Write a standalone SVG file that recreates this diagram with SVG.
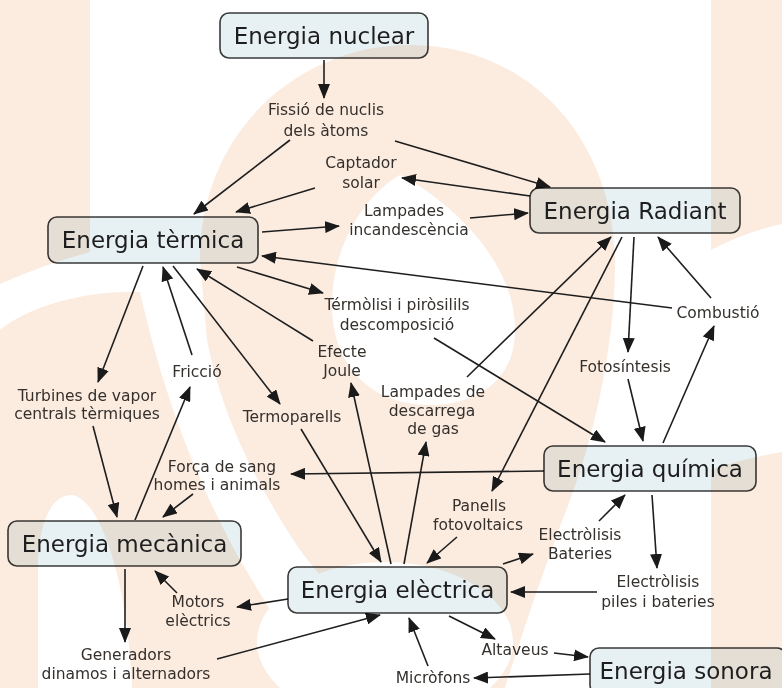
<svg xmlns="http://www.w3.org/2000/svg" width="782" height="688" viewBox="0 0 782 688">
<style>
.nd rect{fill:#e7f0f3;stroke:#3a3a3a;stroke-width:1.6;mix-blend-mode:multiply}
.nd text{font-family:"DejaVu Sans",Verdana,sans-serif;font-size:23px;fill:#1e1e1e;text-anchor:middle}
.lb text{font-family:"DejaVu Sans",Verdana,sans-serif;font-size:15.5px;fill:#35302c;text-anchor:middle}
#connectors path{fill:none;stroke:#1e1e1e;stroke-width:1.6;marker-end:url(#ah)}
.wm{fill:#fcece0}
</style>
<defs>
<marker id="ah" markerUnits="userSpaceOnUse" markerWidth="15" markerHeight="12" refX="14" refY="6" orient="auto"><path d="M0,0 L15,6 L0,12 Z" fill="#1a1a1a"/></marker>
</defs>
<rect width="782" height="688" fill="#ffffff"/>
<g id="watermark">
<path class="wm" d="M0,0 H90 V252 Q45,264 0,284 Z"/>
<path class="wm" d="M711,0 H782 V224 Q745,232 711,250 Z"/>
<path class="wm" d="M711,470 Q745,458 782,452 V688 H711 Z"/>
<path class="wm" d="M0,330 C30,305 90,290 140,292 C160,380 190,470 240,560 C270,610 295,650 315,688 H132 C128,585 102,500 72,495 C52,495 40,520 38,560 L38,688 H0 Z"/>
<path class="wm" d="M400,688 C370,630 330,590 300,550 C260,490 222,420 207,340 L200,260 C200,130 300,45 410,45 C530,45 615,140 615,265 C615,330 600,420 570,500 C540,580 520,640 505,688 Z"/>
<path fill="#ffffff" d="M400,175 C440,195 515,255 515,330 C515,385 470,405 430,405 C370,405 332,365 332,305 C332,245 365,195 400,175 Z"/>
<ellipse fill="#ffffff" cx="385" cy="642" rx="128" ry="80"/>
</g>
<g id="connectors">
<path d="M324,60 L324,98"/>
<path d="M290,140 L194,214"/>
<path d="M395,141 L550,187"/>
<path d="M315,188 L236,212"/>
<path d="M530,196 L402,178"/>
<path d="M262,232 L339,226"/>
<path d="M470,218 L528,213"/>
<path d="M672,308 L262,256"/>
<path d="M237,267 L323,293"/>
<path d="M313,341 L197,269"/>
<path d="M143,266 L98,382"/>
<path d="M192,355 L163,267"/>
<path d="M173,266 L280,404"/>
<path d="M93,426 L117,517"/>
<path d="M135,520 L190,387"/>
<path d="M193,494 L163,517"/>
<path d="M544,471 L291,474"/>
<path d="M301,429 L381,562"/>
<path d="M391,564 L351,383"/>
<path d="M404,564 L426,442"/>
<path d="M467,377 L611,237"/>
<path d="M622,237 L492,491"/>
<path d="M634,237 L628,352"/>
<path d="M711,298 L658,237"/>
<path d="M434,338 L605,442"/>
<path d="M628,379 L643,441"/>
<path d="M663,443 L714,326"/>
<path d="M457,537 L427,563"/>
<path d="M503,564 L533,554"/>
<path d="M599,521 L625,495"/>
<path d="M652,495 L657,568"/>
<path d="M597,592 L511,592"/>
<path d="M288,599 L237,607"/>
<path d="M177,593 L155,571"/>
<path d="M125,569 L125,642"/>
<path d="M217,659 L380,615"/>
<path d="M428,666 L409,618"/>
<path d="M449,616 L495,639"/>
<path d="M554,653 L588,657"/>
<path d="M590,674 L474,678"/>
</g>
<g id="n-nuclear" class="nd"><rect x="220" y="13" width="208" height="45" rx="9"/><text x="324" y="43.5">Energia nuclear</text></g>
<g id="n-radiant" class="nd"><rect x="530" y="188" width="210" height="45" rx="9"/><text x="635" y="218.5">Energia Radiant</text></g>
<g id="n-termica" class="nd"><rect x="48" y="217" width="210" height="46" rx="9"/><text x="153" y="247.5">Energia tèrmica</text></g>
<g id="n-quimica" class="nd"><rect x="544" y="446" width="212" height="45" rx="9"/><text x="650" y="476.5">Energia química</text></g>
<g id="n-mecanica" class="nd"><rect x="8" y="521" width="233" height="45" rx="9"/><text x="124.5" y="551.5">Energia mecànica</text></g>
<g id="n-electrica" class="nd"><rect x="288" y="567" width="219" height="46" rx="9"/><text x="397.5" y="597.5">Energia elèctrica</text></g>
<g id="n-sonora" class="nd"><rect x="590" y="648" width="196" height="46" rx="9"/><text x="686" y="678.5">Energia sonora</text></g>
<g id="l-fissio" class="lb"><text x="326" y="115">Fissió de nuclis</text><text x="326" y="136">dels àtoms</text></g>
<g id="l-captador" class="lb"><text x="361" y="168">Captador</text><text x="361" y="188">solar</text></g>
<g id="l-lampinc" class="lb"><text x="404" y="216">Lampades</text><text x="409" y="235">incandescència</text></g>
<g id="l-termolisi" class="lb"><text x="397" y="310">Térmòlisi i piròsilils</text><text x="397" y="330">descomposició</text></g>
<g id="l-combustio" class="lb"><text x="718" y="318">Combustió</text></g>
<g id="l-efecte" class="lb"><text x="342" y="357">Efecte</text><text x="342" y="376">Joule</text></g>
<g id="l-friccio" class="lb"><text x="197" y="377">Fricció</text></g>
<g id="l-turbines" class="lb"><text x="87" y="401">Turbines de vapor</text><text x="87" y="419">centrals tèrmiques</text></g>
<g id="l-termoparells" class="lb"><text x="292" y="422">Termoparells</text></g>
<g id="l-lampgas" class="lb"><text x="433" y="397">Lampades de</text><text x="432" y="416">descarrega</text><text x="433" y="434">de gas</text></g>
<g id="l-fotosintesis" class="lb"><text x="625" y="372">Fotosíntesis</text></g>
<g id="l-forca" class="lb"><text x="222" y="472">Força de sang</text><text x="217" y="490">homes i animals</text></g>
<g id="l-panells" class="lb"><text x="479" y="511">Panells</text><text x="478" y="530">fotovoltaics</text></g>
<g id="l-electbat" class="lb"><text x="580" y="540">Electròlisis</text><text x="580" y="559">Bateries</text></g>
<g id="l-electpiles" class="lb"><text x="658" y="587">Electròlisis</text><text x="658" y="607">piles i bateries</text></g>
<g id="l-motors" class="lb"><text x="198" y="607">Motors</text><text x="198" y="626">elèctrics</text></g>
<g id="l-generadors" class="lb"><text x="126" y="660">Generadors</text><text x="126" y="679">dinamos i alternadors</text></g>
<g id="l-altaveus" class="lb"><text x="515" y="655">Altaveus</text></g>
<g id="l-microfons" class="lb"><text x="433" y="683">Micròfons</text></g>
</svg>
